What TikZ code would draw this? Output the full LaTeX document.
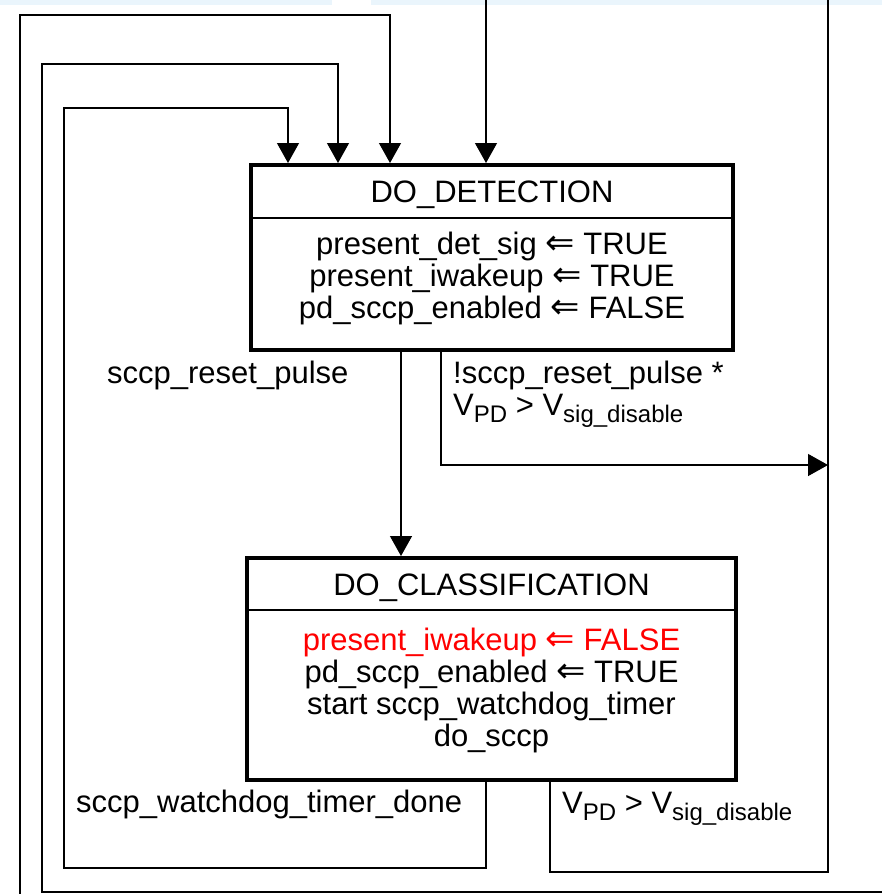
\documentclass[tikz,border=0pt]{standalone}
\usepackage{fontspec}
\setmainfont{Liberation Sans}
\newfontfamily\symfont{DejaVu Sans}
\usetikzlibrary{arrows.meta}
\definecolor{band}{HTML}{EAF5FC}
\newcommand\lowsub[1]{\raisebox{-7pt}{\fontsize{24}{24}\selectfont #1}}
\newcommand\getsarrow{{\symfont\fontsize{35}{32}\selectfont ⇐}}

\begin{document}
\begin{tikzpicture}[x=1pt,y=-1pt,
    every node/.style={font=\fontsize{31}{32}\selectfont, inner sep=0pt},
    statebox/.style={draw, line width=4pt},
    divider/.style={line width=2pt},
    wire/.style={line width=1.3pt},
    tip/.style={wire, -{Triangle[length=20pt,width=22pt]}}]
  \useasboundingbox (0,0) rectangle (882,894);
  \fill[band] (0,0) rectangle (332,5);
  \fill[band] (371,0) rectangle (882,5);

  % states
  \node[statebox, minimum width=482pt, minimum height=185pt] (det) at (492,257.5) {};
  \node[statebox, minimum width=489pt, minimum height=222pt] (cls) at (491.5,669)  {};
  \draw[divider] ([yshift=-55pt]det.north west) -- ([yshift=-55pt]det.north east);
  \draw[divider] ([yshift=-54pt]cls.north west) -- ([yshift=-54pt]cls.north east);

  \node[anchor=base] (dettitle) at (492,202)   {DO\_DETECTION};
  \node[anchor=base] (clstitle) at (491.5,595) {DO\_CLASSIFICATION};
  \node[align=center] (detbody) at (492,278)
    {present\_det\_sig \getsarrow{} TRUE\\ present\_iwakeup \getsarrow{} TRUE\\ pd\_sccp\_enabled \getsarrow{} FALSE};
  \node[align=center] (clsbody) at (491.5,690)
    {\textcolor{red}{present\_iwakeup \getsarrow{} FALSE}\\ pd\_sccp\_enabled \getsarrow{} TRUE\\
     start sccp\_watchdog\_timer\\ do\_sccp};

  % transition labels
  \node[anchor=base west] (resetlbl) at (107,383) {sccp\_reset\_pulse};
  \node[anchor=base west] (notlbl)   at (453,383) {!sccp\_reset\_pulse *};
  \node[anchor=base west] (vpdlbl)   at (453,415) {V\lowsub{PD} > V\lowsub{sig\_disable}};
  \node[anchor=base west] (donelbl)  at (76,812)  {sccp\_watchdog\_timer\_done};
  \node[anchor=base west] (vpdlblb)  at (562,813) {V\lowsub{PD} > V\lowsub{sig\_disable}};

  % loose ends leaving the picture
  \coordinate (inA)   at (20,894);
  \coordinate (inB)   at (882,892);
  \coordinate (inD)   at (486,0);
  \coordinate (outE)  at (828,0);
  \coordinate (joinE) at (828,465);

  % back into DO_DETECTION
  \draw[tip] (inA) |- (390,15) -- (det.north -| 390,0);
  \draw[tip] (inB) -| (42,64) -| (det.north -| 338,0);
  \draw[tip] (cls.south -| 486,0) |- (64,868) |- (288,108) -- (det.north -| 288,0);
  \draw[tip] (inD) -- (det.north -| inD);

  \draw[tip] (det.south -| 401,0) -- (cls.north -| 401,0);
  \draw[tip] (det.south -| 441,0) |- (joinE);
  \draw[wire] (cls.south -| 550,0) |- (828,872) -- (outE);
\end{tikzpicture}
\end{document}
